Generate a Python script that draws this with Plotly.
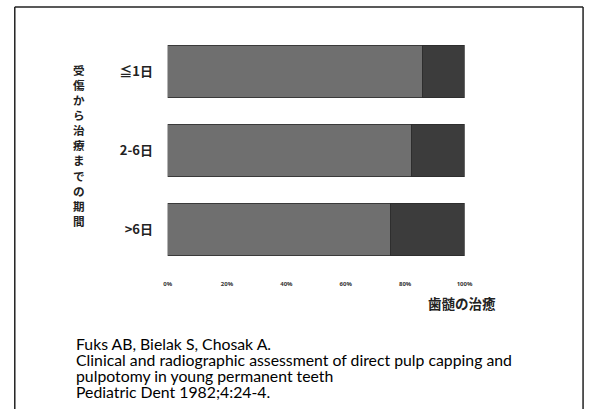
import plotly.graph_objects as go

# Data
categories = ["≦1日", "2-6日", ">6日"]
healed_pct = [86, 82, 75]
failed_pct = [14, 18, 25]
x_tick_vals = [0, 20, 40, 60, 80, 100]
x_tick_text = ["0%", "20%", "40%", "60%", "80%", "100%"]
y_title = "受傷から治療までの期間"
x_title = "歯髄の治癒"
citation_lines = [
    "Fuks AB, Bielak S, Chosak A.",
    "Clinical and radiographic assessment of direct pulp capping and",
    "pulpotomy in young permanent teeth",
    "Pediatric Dent 1982;4:24-4.",
]

W, H = 594, 409
def px(x):
    return x / W
def py(y):
    return 1 - y / H

fig = go.Figure()
fig.add_trace(go.Bar(
    y=categories, x=healed_pct, orientation="h", name="治癒",
    marker=dict(color="#6f6f6f", line=dict(color="#3a3a3a", width=1)),
    width=0.67,
))
fig.add_trace(go.Bar(
    y=categories, x=failed_pct, orientation="h", name="不良",
    marker=dict(color="#3c3c3c", line=dict(color="#2e2e2e", width=1)),
    width=0.67,
))

cjk = "Noto Sans CJK JP"
annotations = []
# vertical y title, one character per line
annotations.append(dict(
    x=px(77), y=py(145), xref="paper", yref="paper",
    text="<b>" + "<br>".join(y_title) + "</b>", showarrow=False,
    xanchor="center", yanchor="middle", align="center",
    font=dict(family=cjk, size=11.6, color="#222"),
))
annotations.append(dict(
    x=px(467), y=py(303), xref="paper", yref="paper",
    text="<b>" + x_title + "</b>", showarrow=False, xanchor="center", yanchor="middle",
    font=dict(family=cjk, size=13.5, color="#222"),
))
for i, line in enumerate(citation_lines):
    annotations.append(dict(
        x=px(71), y=py(343 + i * 16), xref="paper", yref="paper",
        text=line, showarrow=False, xanchor="left", yanchor="middle",
        font=dict(family="Lato", size=15.8, color="#000"),
    ))

border = dict(color="#222", width=1.5)
fig.update_layout(
    width=W, height=H,
    margin=dict(l=0, r=0, t=0, b=0),
    paper_bgcolor="white", plot_bgcolor="white",
    barmode="stack", showlegend=False,
    bargap=0.33,
    xaxis=dict(
        domain=[px(167), px(470)], range=[0, 100],
        tickvals=x_tick_vals, ticktext=["<b>" + t + "</b>" for t in x_tick_text],
        tickfont=dict(family="Noto Sans", size=6, color="#333"),
        showgrid=False, zeroline=False, showline=False,
        ticks="outside", ticklen=9, tickcolor="rgba(0,0,0,0)",
    ),
    yaxis=dict(
        domain=[py(269), py(32)],
        categoryorder="array", categoryarray=categories,
        autorange="reversed",
        tickvals=categories, ticktext=["<b>" + c + "</b>" for c in categories],
        tickfont=dict(family=cjk, size=13, color="#222"),
        showgrid=False, zeroline=False, showline=False,
        ticks="outside", ticklen=11, tickcolor="rgba(0,0,0,0)",
    ),
    annotations=annotations,
    shapes=[
        dict(type="line", xref="paper", yref="paper", x0=px(11), x1=px(591), y0=py(7), y1=py(7), line=border),
        dict(type="line", xref="paper", yref="paper", x0=px(11), x1=px(11), y0=0, y1=py(7), line=border),
        dict(type="line", xref="paper", yref="paper", x0=px(591), x1=px(591), y0=0, y1=py(7), line=border),
    ],
)

fig.write_html(
    "out.html", config={"displayModeBar": False},
    post_script=(
        "document.body.style.margin='0';"
        "document.body.style.overflow='hidden';"
        "document.documentElement.style.overflow='hidden';"
    ),
)
